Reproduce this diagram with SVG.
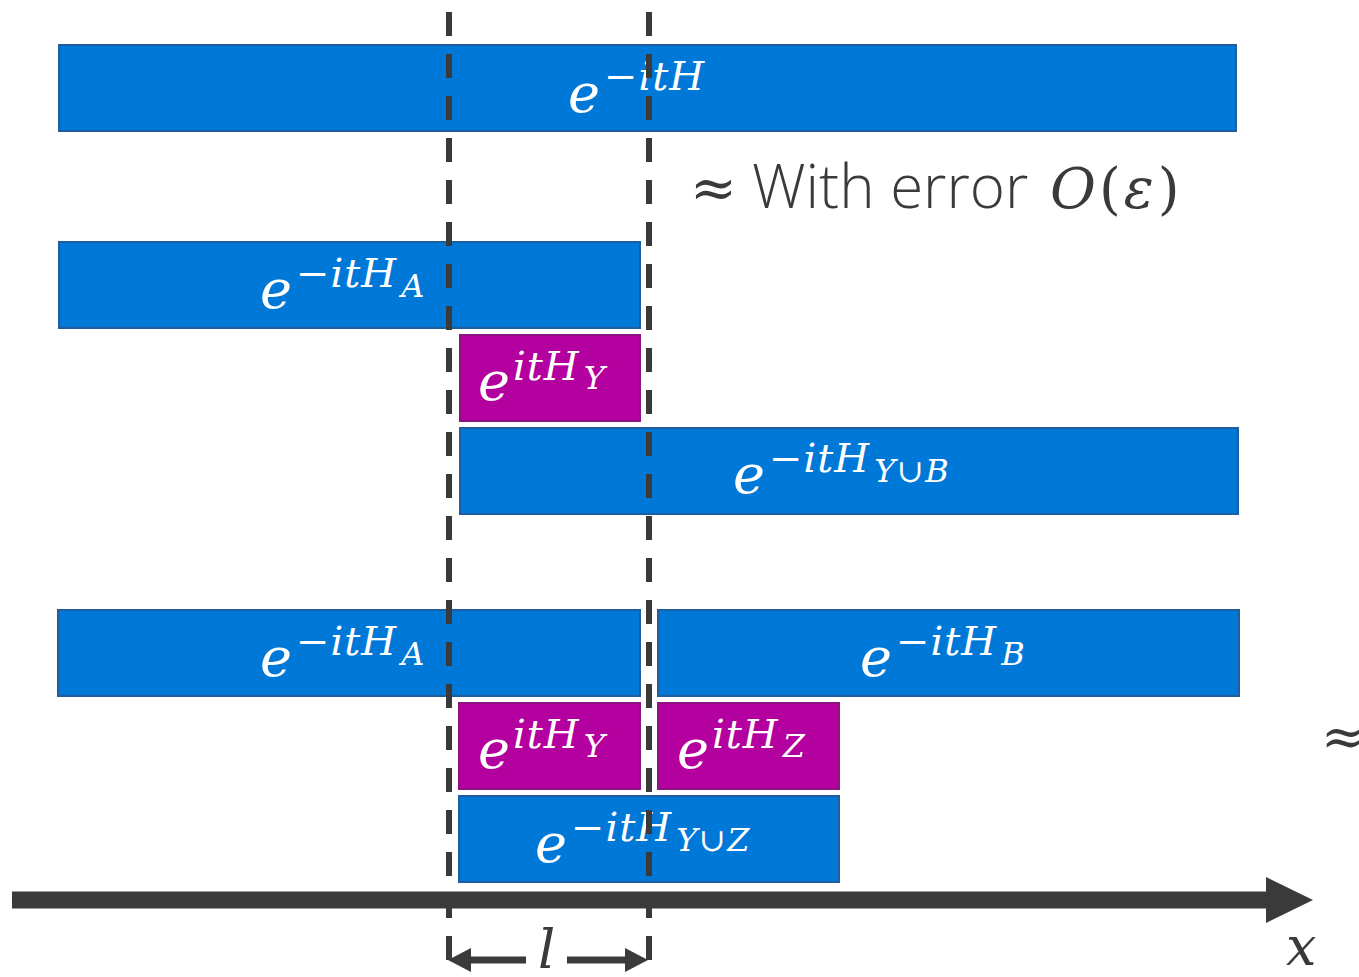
<svg xmlns="http://www.w3.org/2000/svg" width="1359" height="977" viewBox="0 0 1359 977">
<style>
.blue{fill:#0078D7;stroke:#1F5E9E;stroke-width:2}
.purp{fill:#B4009E;stroke:#8C1380;stroke-width:2}
.m{font-family:"DejaVu Serif","Liberation Serif",serif;font-style:italic;fill:#FFFFFF}
.big{font-size:54px}
.sup{font-size:40px;letter-spacing:1px}
.sub{font-size:32px;letter-spacing:1.5px}
.dash{stroke:#3A3A3A;stroke-width:6;stroke-dasharray:24 18;fill:none}
.dark{fill:#3A3A3A}
.ms{font-family:"DejaVu Serif","Liberation Serif",serif;fill:#3A3A3A}
</style>
<g id="bar-top"><rect class="blue" x="59" y="45" width="1177" height="86"/>
<text class="m" x="568" y="112"><tspan class="big">e</tspan><tspan class="sup" dx="4" dy="-22">−itH</tspan></text></g>
<g id="bar-A1"><rect class="blue" x="59" y="242" width="581" height="86"/>
<text class="m" x="260" y="308"><tspan class="big">e</tspan><tspan class="sup" dx="4" dy="-21">−itH</tspan><tspan class="sub" dx="4" dy="10">A</tspan></text></g>
<g id="bar-Y1"><rect class="purp" x="460" y="335" width="180" height="86"/>
<text class="m" x="478" y="400"><tspan class="big">e</tspan><tspan class="sup" dx="3" dy="-20">itH</tspan><tspan class="sub" dx="4" dy="9">Y</tspan></text></g>
<g id="bar-YB"><rect class="blue" x="460" y="428" width="778" height="86"/>
<text class="m" x="733" y="493"><tspan class="big">e</tspan><tspan class="sup" dx="4" dy="-21">−itH</tspan><tspan class="sub" dx="4" dy="10">Y∪B</tspan></text></g>
<g id="bar-A2"><rect class="blue" x="58" y="610" width="582" height="86"/>
<text class="m" x="260" y="676"><tspan class="big">e</tspan><tspan class="sup" dx="4" dy="-21">−itH</tspan><tspan class="sub" dx="4" dy="10">A</tspan></text></g>
<g id="bar-B"><rect class="blue" x="658" y="610" width="581" height="86"/>
<text class="m" x="860" y="676"><tspan class="big">e</tspan><tspan class="sup" dx="4" dy="-21">−itH</tspan><tspan class="sub" dx="4" dy="10">B</tspan></text></g>
<g id="bar-Y2"><rect class="purp" x="459" y="703" width="181" height="86"/>
<text class="m" x="478" y="768"><tspan class="big">e</tspan><tspan class="sup" dx="3" dy="-20">itH</tspan><tspan class="sub" dx="4" dy="9">Y</tspan></text></g>
<g id="bar-Z"><rect class="purp" x="658" y="703" width="181" height="86"/>
<text class="m" x="677" y="768"><tspan class="big">e</tspan><tspan class="sup" dx="3" dy="-20">itH</tspan><tspan class="sub" dx="4" dy="9">Z</tspan></text></g>
<g id="bar-YZ"><rect class="blue" x="459" y="796" width="380" height="86"/>
<text class="m" x="535" y="862"><tspan class="big">e</tspan><tspan class="sup" dx="4" dy="-21">−itH</tspan><tspan class="sub" dx="4" dy="10">Y∪Z</tspan></text></g>
<g id="connectors">
<line class="dash" x1="449" y1="12" x2="449" y2="968"/>
<line class="dash" x1="649" y1="12" x2="649" y2="968"/>
<line x1="12" y1="900" x2="1270" y2="900" stroke="#3A3A3A" stroke-width="17"/>
<polygon class="dark" points="1266,877 1313,900 1266,923"/>
<line x1="468" y1="960" x2="526" y2="960" stroke="#3A3A3A" stroke-width="7"/>
<polygon class="dark" points="448,960 471,948 471,972"/>
<line x1="567" y1="960" x2="627" y2="960" stroke="#3A3A3A" stroke-width="7"/>
<polygon class="dark" points="648,960 625,948 625,972"/>
</g>
<g id="labels">
<text class="ms" x="690" y="207" font-size="56">≈</text>
<text x="752" y="208" fill="#3A3A3A" font-size="60" font-family="Open Sans,sans-serif" font-weight="300">With error</text>
<text class="ms" x="1050" y="208" font-size="56"><tspan font-style="italic">O</tspan><tspan dx="3" font-weight="300">(</tspan><tspan font-style="italic" dx="3">ε</tspan><tspan dx="4">)</tspan></text>
<text x="538" y="968" fill="#3A3A3A" font-size="54" font-family="DejaVu Serif,serif" font-style="italic">l</text>
<text x="1286" y="965" fill="#3A3A3A" font-size="54" font-family="DejaVu Serif,serif" font-style="italic">x</text>
<text x="1321" y="755" fill="#3A3A3A" font-size="54" font-family="DejaVu Serif,serif">≈</text>
</g>
</svg>
